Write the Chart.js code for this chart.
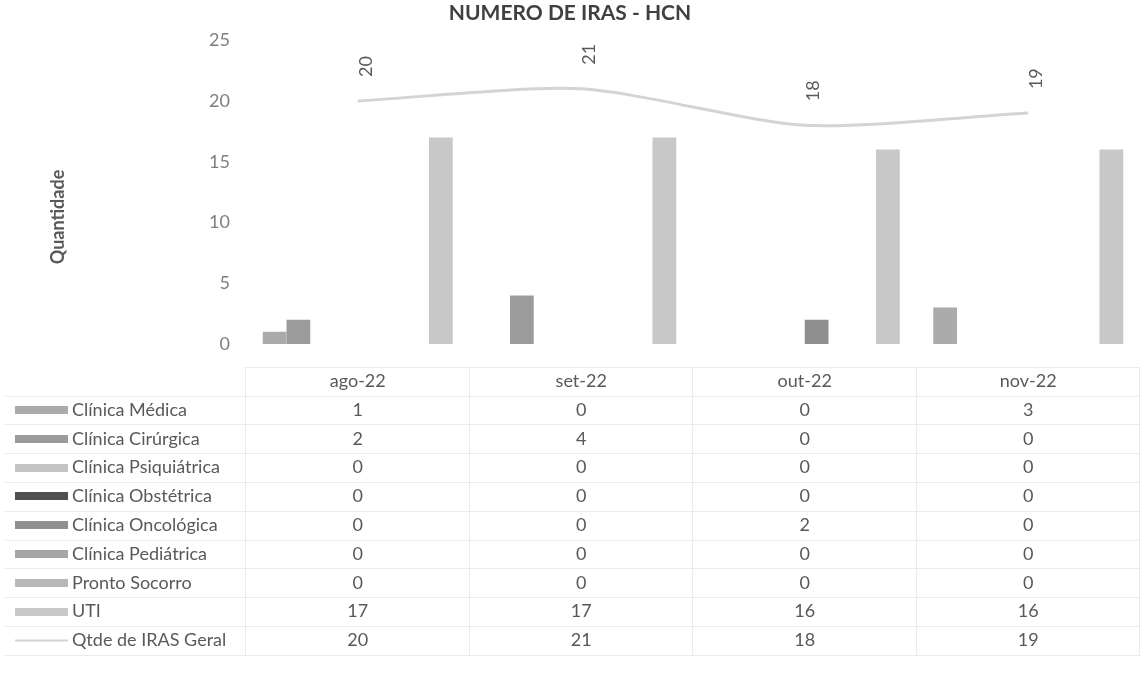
<!DOCTYPE html>
<html><head><meta charset="utf-8">
<script src="https://cdn.jsdelivr.net/npm/chart.js@4/dist/chart.umd.min.js"></script>
<style>html,body{margin:0;padding:0;background:#fff}#wrap{width:1140px;height:686px}</style>
</head><body><div id="wrap"><canvas id="c" width="1140" height="686"></canvas></div>
<script>
const categories = ['ago-22', 'set-22', 'out-22', 'nov-22'];
const clinicaMedica = [1, 0, 0, 3];
const clinicaCirurgica = [2, 4, 0, 0];
const clinicaPsiquiatrica = [0, 0, 0, 0];
const clinicaObstetrica = [0, 0, 0, 0];
const clinicaOncologica = [0, 0, 2, 0];
const clinicaPediatrica = [0, 0, 0, 0];
const prontoSocorro = [0, 0, 0, 0];
const uti = [17, 17, 16, 16];
const qtdeGeral = [20, 21, 18, 19];
const yTickValues = [0, 5, 10, 15, 20, 25];
const barNames = ['Clínica Médica', 'Clínica Cirúrgica', 'Clínica Psiquiátrica', 'Clínica Obstétrica', 'Clínica Oncológica', 'Clínica Pediátrica', 'Pronto Socorro', 'UTI'];
const lineName = 'Qtde de IRAS Geral';
const chartTitle = 'NUMERO DE IRAS - HCN';
const yTitle = 'Quantidade';

const barSeries = [clinicaMedica, clinicaCirurgica, clinicaPsiquiatrica, clinicaObstetrica, clinicaOncologica, clinicaPediatrica, prontoSocorro, uti];
const barColors = ['#ababab', '#9b9b9b', '#c4c4c4', '#505050', '#8f8f8f', '#a6a6a6', '#b8b8b8', '#c8c8c8'];
const lineColor = '#d4d4d4';

const datasets = barSeries.map((d, i) => ({
  type: 'bar', label: barNames[i], data: d, backgroundColor: barColors[i],
  categoryPercentage: 0.85, barPercentage: 1.0, order: 1
}));
datasets.push({
  type: 'line', label: lineName, data: qtdeGeral, borderColor: lineColor, borderWidth: 3,
  pointRadius: 0, tension: 0.25, fill: false, order: 0
});

const FONT = 'Lato, "Open Sans", sans-serif';

const tablePlugin = {
  id: 'tablePlugin',
  afterDraw(chart) {
    const ctx = chart.ctx;
    const area = chart.chartArea;
    const xs = chart.scales.x;
    const catW = (area.right - area.left) / categories.length;
    ctx.save();
    // Y axis title
    ctx.save();
    ctx.translate(58, 217);
    ctx.rotate(-Math.PI / 2);
    ctx.font = 'bold 18px ' + FONT;
    ctx.fillStyle = '#595959';
    ctx.textAlign = 'center'; ctx.textBaseline = 'middle';
    ctx.fillText(yTitle, 0, 0);
    ctx.restore();

    // Line data labels (rotated)
    const lineMeta = chart.getDatasetMeta(datasets.length - 1);
    lineMeta.data.forEach((pt, i) => {
      ctx.save();
      ctx.translate(pt.x + 8, pt.y - 24);
      ctx.rotate(-Math.PI / 2);
      ctx.font = '18px ' + FONT;
      ctx.fillStyle = '#595959';
      ctx.textAlign = 'left'; ctx.textBaseline = 'middle';
      ctx.fillText(String(qtdeGeral[i]), 0, 0);
      ctx.restore();
    });

    // Data table
    const headerY = 381;
    const rowY0 = 410, rowH = 28.8;
    const top = 367, bottom = rowY0 + rowH * 8.5;
    ctx.strokeStyle = '#ebebeb'; ctx.lineWidth = 1;
    ctx.beginPath();
    ctx.moveTo(area.left, top + 0.5); ctx.lineTo(area.right, top + 0.5);
    for (let r = 0; r <= 9; r++) {
      const y = Math.round(rowY0 - rowH / 2 + r * rowH) + 0.5;
      ctx.moveTo(5, y); ctx.lineTo(area.right, y);
    }
    for (let k = 0; k <= categories.length; k++) {
      const x = Math.round(area.left + k * catW) - 0.5;
      ctx.moveTo(x, top); ctx.lineTo(x, bottom);
    }
    ctx.stroke();

    ctx.font = '18px ' + FONT;
    ctx.fillStyle = '#595959';
    ctx.textBaseline = 'middle';
    ctx.textAlign = 'center';
    categories.forEach((c, i) => ctx.fillText(c, xs.getPixelForValue(i), headerY));

    const allSeries = barSeries.concat([qtdeGeral]);
    const allNames = barNames.concat([lineName]);
    allSeries.forEach((series, r) => {
      const y = rowY0 + r * rowH;
      if (r < barSeries.length) {
        ctx.fillStyle = barColors[r];
        ctx.fillRect(15, Math.round(y - 4), 53, 8);
      } else {
        ctx.strokeStyle = lineColor; ctx.lineWidth = 2;
        ctx.beginPath(); ctx.moveTo(15, y); ctx.lineTo(68, y); ctx.stroke();
      }
      ctx.fillStyle = '#595959';
      ctx.textAlign = 'left';
      ctx.fillText(allNames[r], 72, y);
      ctx.textAlign = 'center';
      series.forEach((v, i) => ctx.fillText(String(v), xs.getPixelForValue(i), y));
    });
    ctx.restore();
  }
};

new Chart(document.getElementById('c'), {
  data: { labels: categories, datasets },
  options: {
    responsive: false, animation: false, devicePixelRatio: 1,
    layout: { padding: { left: 0, right: 0, top: 0, bottom: 342 } },
    plugins: {
      legend: { display: false }, tooltip: { enabled: false },
      title: {
        display: true, text: chartTitle, color: '#404040',
        font: { family: FONT, size: 21, weight: 'bold' },
        padding: { top: 1, bottom: 14 }
      }
    },
    scales: {
      x: { display: false },
      y: {
        min: 0, max: 25,
        afterFit(s) { s.width = 246; },
        afterBuildTicks(s) { s.ticks = yTickValues.map(v => ({ value: v })); },
        grid: { display: false, drawTicks: false }, border: { display: false },
        ticks: { padding: 16, color: '#7f7f7f', font: { family: FONT, size: 18 } }
      }
    }
  },
  plugins: [tablePlugin]
});
</script></body></html>
